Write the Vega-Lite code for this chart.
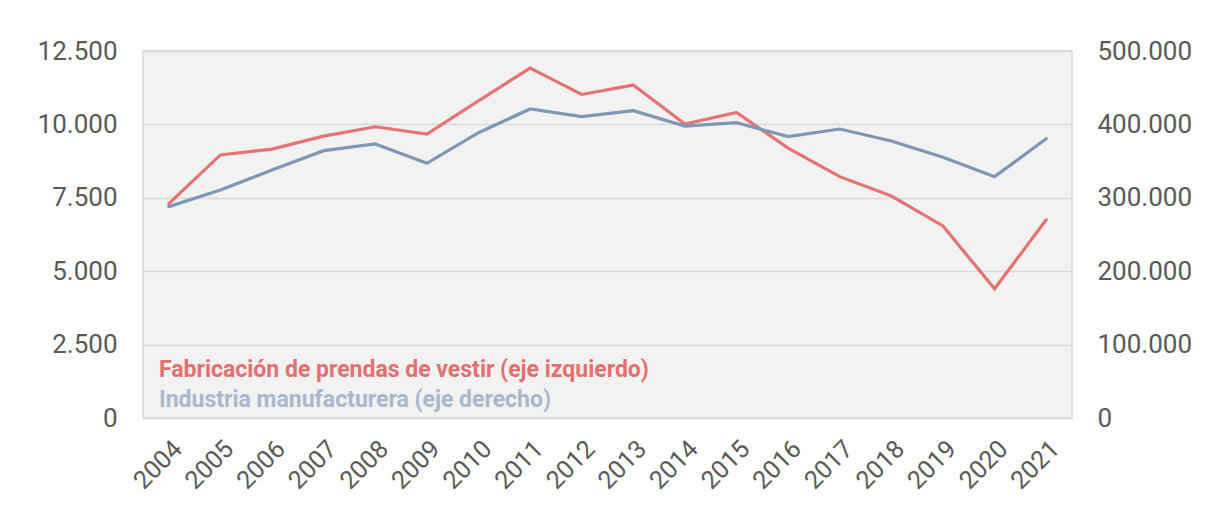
{
  "$schema": "https://vega.github.io/schema/vega-lite/v6.json",
  "width": 929,
  "height": 367,
  "autosize": {"type": "none"},
  "padding": {"left": 143, "top": 51, "right": 137, "bottom": 93},
  "background": "white",
  "config": {
    "locale": {"number": {"decimal": ",", "thousands": ".", "grouping": [3], "currency": ["", " €"]}},
    "font": "Roboto",
    "view": {"fill": "#f2f2f2", "stroke": "#d9d9d9", "strokeWidth": 1.5},
    "axis": {"labelFont": "Roboto", "labelColor": "#595959", "labelFontSize": 26, "domain": false, "ticks": false, "title": null}
  },
  "data": {
    "values": [
      {"year": "2004", "series": "Fabricación de prendas de vestir (eje izquierdo)", "value": 7300},
      {"year": "2005", "series": "Fabricación de prendas de vestir (eje izquierdo)", "value": 8960},
      {"year": "2006", "series": "Fabricación de prendas de vestir (eje izquierdo)", "value": 9160},
      {"year": "2007", "series": "Fabricación de prendas de vestir (eje izquierdo)", "value": 9600},
      {"year": "2008", "series": "Fabricación de prendas de vestir (eje izquierdo)", "value": 9920},
      {"year": "2009", "series": "Fabricación de prendas de vestir (eje izquierdo)", "value": 9670},
      {"year": "2010", "series": "Fabricación de prendas de vestir (eje izquierdo)", "value": 10800},
      {"year": "2011", "series": "Fabricación de prendas de vestir (eje izquierdo)", "value": 11920},
      {"year": "2012", "series": "Fabricación de prendas de vestir (eje izquierdo)", "value": 11020},
      {"year": "2013", "series": "Fabricación de prendas de vestir (eje izquierdo)", "value": 11340},
      {"year": "2014", "series": "Fabricación de prendas de vestir (eje izquierdo)", "value": 10010},
      {"year": "2015", "series": "Fabricación de prendas de vestir (eje izquierdo)", "value": 10410},
      {"year": "2016", "series": "Fabricación de prendas de vestir (eje izquierdo)", "value": 9190},
      {"year": "2017", "series": "Fabricación de prendas de vestir (eje izquierdo)", "value": 8220},
      {"year": "2018", "series": "Fabricación de prendas de vestir (eje izquierdo)", "value": 7560},
      {"year": "2019", "series": "Fabricación de prendas de vestir (eje izquierdo)", "value": 6540},
      {"year": "2020", "series": "Fabricación de prendas de vestir (eje izquierdo)", "value": 4400},
      {"year": "2021", "series": "Fabricación de prendas de vestir (eje izquierdo)", "value": 6750},
      {"year": "2004", "series": "Industria manufacturera (eje derecho)", "value": 288000},
      {"year": "2005", "series": "Industria manufacturera (eje derecho)", "value": 310700},
      {"year": "2006", "series": "Industria manufacturera (eje derecho)", "value": 337900},
      {"year": "2007", "series": "Industria manufacturera (eje derecho)", "value": 364200},
      {"year": "2008", "series": "Industria manufacturera (eje derecho)", "value": 373300},
      {"year": "2009", "series": "Industria manufacturera (eje derecho)", "value": 347000},
      {"year": "2010", "series": "Industria manufacturera (eje derecho)", "value": 388700},
      {"year": "2011", "series": "Industria manufacturera (eje derecho)", "value": 421000},
      {"year": "2012", "series": "Industria manufacturera (eje derecho)", "value": 410500},
      {"year": "2013", "series": "Industria manufacturera (eje derecho)", "value": 418600},
      {"year": "2014", "series": "Industria manufacturera (eje derecho)", "value": 397800},
      {"year": "2015", "series": "Industria manufacturera (eje derecho)", "value": 402300},
      {"year": "2016", "series": "Industria manufacturera (eje derecho)", "value": 383300},
      {"year": "2017", "series": "Industria manufacturera (eje derecho)", "value": 393700},
      {"year": "2018", "series": "Industria manufacturera (eje derecho)", "value": 377400},
      {"year": "2019", "series": "Industria manufacturera (eje derecho)", "value": 355200},
      {"year": "2020", "series": "Industria manufacturera (eje derecho)", "value": 328800},
      {"year": "2021", "series": "Industria manufacturera (eje derecho)", "value": 380500}
    ]
  },
  "encoding": {
    "x": {
      "field": "year",
      "type": "ordinal",
      "scale": {"padding": 0.5},
      "axis": {"labelAngle": -45, "labelPadding": 18, "grid": false, "labelFontSize": 25}
    },
    "color": {
      "field": "series",
      "type": "nominal",
      "scale": {
        "domain": ["Fabricación de prendas de vestir (eje izquierdo)", "Industria manufacturera (eje derecho)"],
        "range": ["#e57373", "#7f96b5"]
      },
      "legend": {
        "title": null,
        "orient": "none",
        "legendX": -7,
        "legendY": 307,
        "symbolSize": 0,
        "symbolStrokeWidth": 0,
        "symbolOpacity": 0,
        "labelOffset": 0,
        "labelFont": "Roboto",
        "labelFontSize": 23,
        "labelFontWeight": "bold",
        "labelLimit": 0,
        "rowPadding": 6.5,
        "padding": 0,
        "encode": {
          "labels": {
            "update": {
              "fill": {"signal": "datum.value === 'Industria manufacturera (eje derecho)' ? '#a9b8cf' : '#e46f6f'"}
            }
          }
        }
      }
    }
  },
  "layer": [
    {
      "transform": [{"filter": "datum.series === 'Fabricación de prendas de vestir (eje izquierdo)'"}],
      "mark": {"type": "line", "strokeWidth": 3.2, "strokeCap": "round"},
      "encoding": {
        "y": {
          "field": "value",
          "type": "quantitative",
          "scale": {"domain": [0, 12500]},
          "axis": {"orient": "left", "values": [0, 2500, 5000, 7500, 10000, 12500], "format": ",.0f", "labelPadding": 26, "grid": true, "gridColor": "#d9d9d9", "gridWidth": 1.3}
        }
      }
    },
    {
      "transform": [{"filter": "datum.series === 'Industria manufacturera (eje derecho)'"}],
      "mark": {"type": "line", "strokeWidth": 3.2, "strokeCap": "round"},
      "encoding": {
        "y": {
          "field": "value",
          "type": "quantitative",
          "scale": {"domain": [0, 500000]},
          "axis": {"orient": "right", "values": [0, 100000, 200000, 300000, 400000, 500000], "format": ",.0f", "labelPadding": 25, "grid": false}
        }
      }
    }
  ],
  "resolve": {"scale": {"y": "independent"}}
}
